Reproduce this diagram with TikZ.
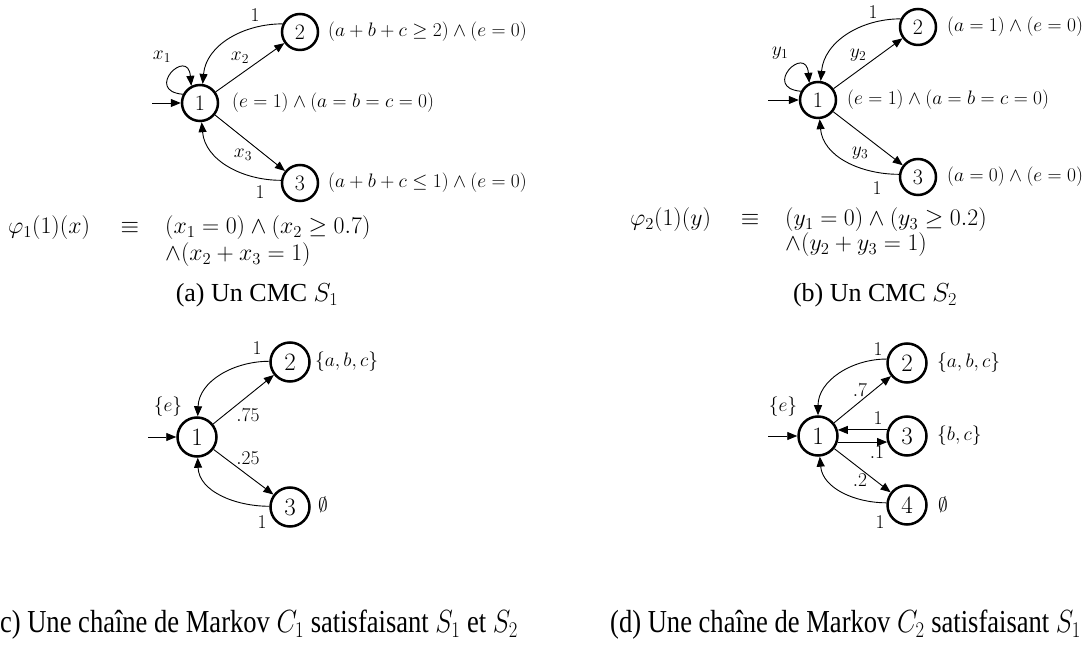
\RequirePackage{fix-cm}
\documentclass[tikz,border=0pt]{standalone}
\usepackage{graphicx}
\usepackage{fontspec}
\setmainfont{Liberation Serif}
\usetikzlibrary{arrows.meta,calc}
\tikzset{
  st/.style={circle, draw, line width=2.5pt, minimum size=36pt, inner sep=0pt, font=\fontsize{22}{22}\selectfont},
  stb/.style={st, minimum size=39pt, font=\fontsize{25}{25}\selectfont},
  ed/.style={line width=0.9pt, -{Triangle[length=10pt,width=8pt]}},
  lab/.style={inner sep=0pt, font=\fontsize{19.5}{21}\selectfont},
  frm/.style={inner sep=0pt, font=\fontsize{23.8}{25}\selectfont},
  captxt/.style={inner sep=0pt, font=\fontsize{26}{28}\selectfont},
}
\newcommand{\mybotcaption}[1]{\scalebox{0.83}[1]{\fontsize{32}{34}\selectfont #1}}
\begin{document}
\begin{tikzpicture}[x=1pt,y=1pt]
\useasboundingbox[fill=white] (0,0) rectangle (1089,648);
% ---------- (a) ----------
\node[st] (a1) at (200,545) {$1$};
\node[st] (a2) at (300,616) {$2$};
\node[st] (a3) at (300,465) {$3$};
\node[lab, anchor=west] (a2l) at (328,616) {$(a+b+c\geq 2)\wedge(e=0)$};
\node[lab, anchor=west] (a1l) at (232,545) {$(e=1)\wedge(a=b=c=0)$};
\node[lab, anchor=west] (a3l) at (328,465) {$(a+b+c\leq 1)\wedge(e=0)$};
\coordinate (a0) at (152,545);
\draw[ed] (a0) -- (a1);
\draw[ed] (a1.153) to[out=175,in=95,looseness=8.5] (a1.117);
\draw[ed] (a1) -- (a2);
\draw[ed] (a2.155) to[out=180,in=85] (a1.82);
\draw[ed] (a1) -- (a3);
\draw[ed] (a3.172) to[out=180,in=275] (a1.275);
\node[lab] (ax1) at (162,591) {$x_1$};
\node[lab] (ax2) at (240,590) {$x_2$};
\node[lab] (ax3) at (243,493) {$x_3$};
\node[lab] (ao2) at (255,633) {$1$};
\node[lab] (ao3) at (260,456) {$1$};
\node[frm, anchor=west] (fa) at (8,420) {$\varphi_1(1)(x)$};
\node[frm] (fae) at (130,420) {$\equiv$};
\node[frm, anchor=west] (fa1) at (165,420) {$(x_1=0)\wedge(x_2\geq 0.7)$};
\node[frm, anchor=west] (fa2) at (165,393) {$\wedge(x_2+x_3=1)$};
\node[captxt] (capa) at (257,353) {(a) Un CMC $S_1$};
% ---------- (b) ----------
\node[st] (b1) at (818,548) {$1$};
\node[st] (b2) at (918,621) {$2$};
\node[st] (b3) at (918,471) {$3$};
\node[lab, anchor=west] (b2l) at (947,621) {$(a=1)\wedge(e=0)$};
\node[lab, anchor=west] (b1l) at (847,548) {$(e=1)\wedge(a=b=c=0)$};
\node[lab, anchor=west] (b3l) at (947,471) {$(a=0)\wedge(e=0)$};
\coordinate (b0) at (768,548);
\draw[ed] (b0) -- (b1);
\draw[ed] (b1.153) to[out=175,in=95,looseness=8.5] (b1.117);
\draw[ed] (b1) -- (b2);
\draw[ed] (b2.155) to[out=180,in=85] (b1.82);
\draw[ed] (b1) -- (b3);
\draw[ed] (b3.172) to[out=180,in=275] (b1.275);
\node[lab] (by1) at (780,595) {$y_1$};
\node[lab] (by2) at (858,593) {$y_2$};
\node[lab] (by3) at (860,495) {$y_3$};
\node[lab] (bo2) at (873,636) {$1$};
\node[lab] (bo3) at (877,460) {$1$};
\node[frm, anchor=west] (fb) at (630,428) {$\varphi_2(1)(y)$};
\node[frm] (fbe) at (750,428) {$\equiv$};
\node[frm, anchor=west] (fb1) at (785,428) {$(y_1=0)\wedge(y_3\geq 0.2)$};
\node[frm, anchor=west] (fb2) at (785,403) {$\wedge(y_2+y_3=1)$};
\node[captxt] (capb) at (875,353) {(b) Un CMC $S_2$};
% ---------- (c) ----------
\node[stb] (c1) at (197,211) {$1$};
\node[stb] (c2) at (290,286) {$2$};
\node[stb] (c3) at (290,141) {$3$};
\node[lab, anchor=west] (c2l) at (315,286) {$\{a,b,c\}$};
\node[lab] (c3l) at (323,143) {$\emptyset$};
\node[lab] (c1l) at (168,241) {$\{e\}$};
\coordinate (c0) at (148,211);
\draw[ed] (c0) -- (c1);
\draw[ed] (c1) -- (c2);
\draw[ed] (c2.178) to[out=180,in=88] (c1.88);
\draw[ed] (c1) -- (c3);
\draw[ed] (c3.178) to[out=180,in=272] (c1.272);
\node[lab] (co2) at (257,300) {$1$};
\node[lab] (cp2) at (248,233) {$.75$};
\node[lab] (cp3) at (248,190) {$.25$};
\node[lab] (co3) at (262,126) {$1$};
\node[inner sep=0pt, anchor=west] (capc) at (-9,23) {\mybotcaption{(c) Une chaîne de Markov $C_1$ satisfaisant $S_1$ et $S_2$}};
% ---------- (d) ----------
\node[stb] (d1) at (818,212) {$1$};
\node[stb] (d2) at (907,285) {$2$};
\node[stb] (d3) at (907,212) {$3$};
\node[stb] (d4) at (907,143) {$4$};
\node[lab, anchor=west] (d2l) at (937,285) {$\{a,b,c\}$};
\node[lab, anchor=west] (d3l) at (937,212) {$\{b,c\}$};
\node[lab] (d4l) at (943,143) {$\emptyset$};
\node[lab] (d1l) at (783,241) {$\{e\}$};
\coordinate (d0) at (768,212);
\draw[ed] (d0) -- (d1);
\draw[ed] (d1) -- (d2);
\draw[ed] (d2.169) to[out=180,in=90] (d1.90);
\draw[ed] (d3.163) -- (d1.17);
\draw[ed] (d1.-17) -- (d3.197);
\draw[ed] (d1) -- (d4);
\draw[ed] (d4.174) to[out=180,in=275] (d1.275);
\node[lab] (do2) at (878,299) {$1$};
\node[lab] (dp2) at (860,258) {$.7$};
\node[lab] (do3) at (878,230) {$1$};
\node[lab] (dp3) at (877,196) {$.1$};
\node[lab] (dp4) at (860,168) {$.2$};
\node[lab] (do4) at (880,126) {$1$};
\node[inner sep=0pt, anchor=west] (capd) at (610,23) {\mybotcaption{(d) Une chaîne de Markov $C_2$ satisfaisant $S_1$}};
\end{tikzpicture}
\end{document}
